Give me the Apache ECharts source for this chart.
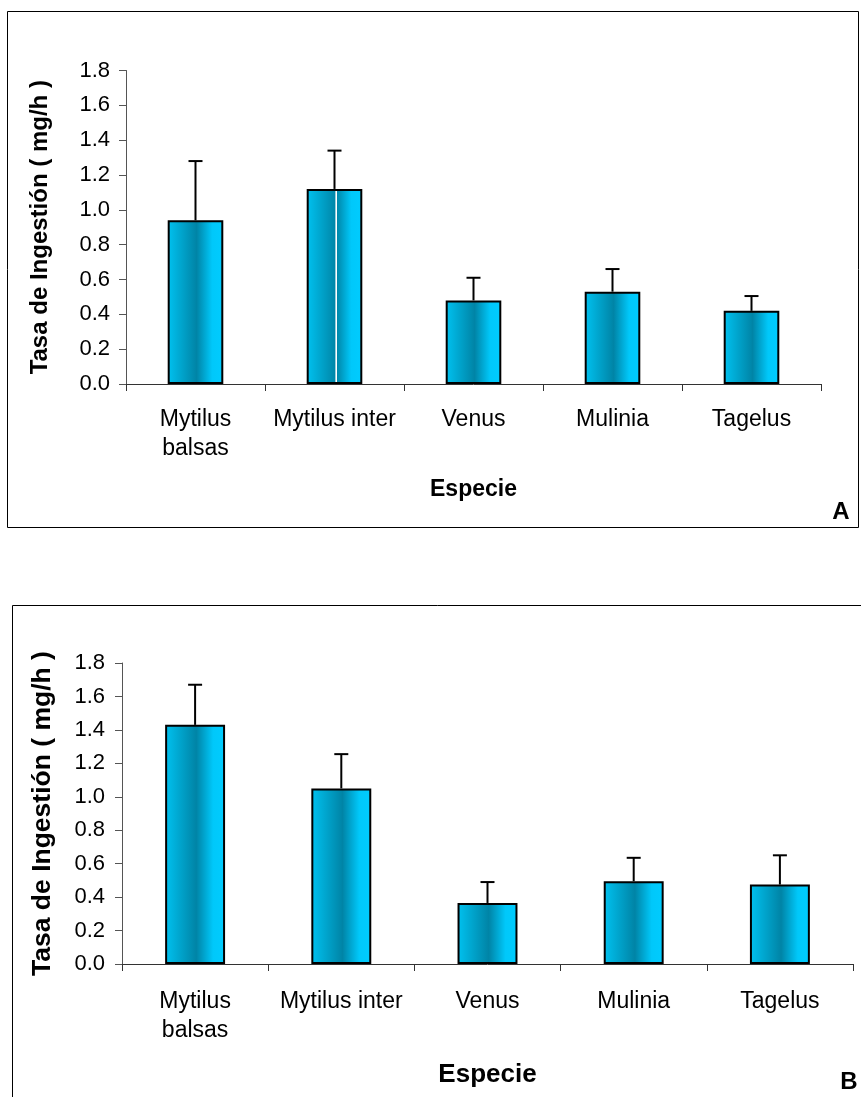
<!DOCTYPE html>
<html>
<head>
<meta charset="utf-8">
<script src="https://cdn.jsdelivr.net/npm/echarts@6/dist/echarts.min.js"></script>
<style>html,body{margin:0;padding:0;background:#fff;}#c{width:861px;height:1097px;}</style>
</head>
<body>
<div id="c"></div>
<script>
const categories = ['Mytilus\nbalsas', 'Mytilus inter', 'Venus', 'Mulinia', 'Tagelus'];
const valuesA = [0.94, 1.12, 0.48, 0.53, 0.42];
const errorsA = [0.34, 0.22, 0.13, 0.13, 0.085];
const valuesB = [1.43, 1.05, 0.365, 0.495, 0.475];
const errorsB = [0.24, 0.205, 0.125, 0.14, 0.175];
const yTicks = { min: 0, max: 1.8, interval: 0.2 };
const yTitle = 'Tasa de Ingestión ( mg/h )';
const xTitle = 'Especie';

const FONT = '"Liberation Sans", Arial, sans-serif';

function barGrad(withLine) {
  const stops = withLine ? [
    { offset: 0, color: '#00c2f0' },
    { offset: 0.515, color: '#0086a8' },
    { offset: 0.52, color: '#ffffff' },
    { offset: 0.545, color: '#ffffff' },
    { offset: 0.55, color: '#0088aa' },
    { offset: 0.8, color: '#00c8fa' },
    { offset: 1, color: '#00ccff' }
  ] : [
    { offset: 0, color: '#00c2f0' },
    { offset: 0.52, color: '#0084a6' },
    { offset: 0.8, color: '#00c8fa' },
    { offset: 1, color: '#00ccff' }
  ];
  return new echarts.graphic.LinearGradient(0, 0, 1, 0, stops);
}

function errRender(params, api) {
  const i = api.value(0), v = api.value(1), e = api.value(2);
  const p0 = api.coord([i, v]);
  const p1 = api.coord([i, v + e]);
  const hw = 7;
  return {
    type: 'group',
    children: [
      { type: 'line', shape: { x1: p0[0], y1: p0[1], x2: p1[0], y2: p1[1] }, style: { stroke: '#000', lineWidth: 2 } },
      { type: 'line', shape: { x1: p1[0] - hw, y1: p1[1], x2: p1[0] + hw, y2: p1[1] }, style: { stroke: '#000', lineWidth: 2 } }
    ]
  };
}

function xAxisCfg(gridIndex, nameSize, nameGap, labelMargin) {
  return {
    type: 'category', gridIndex: gridIndex, data: categories,
    name: xTitle, nameLocation: 'middle', nameGap: nameGap,
    nameTextStyle: { fontFamily: FONT, fontSize: nameSize, fontWeight: 'bold', color: '#000' },
    axisLine: { lineStyle: { color: '#333', width: 1 } },
    axisTick: { show: true, length: 7, lineStyle: { color: '#333' } },
    axisLabel: { fontFamily: FONT, fontSize: 23, color: '#000', lineHeight: 29, margin: labelMargin, interval: 0 },
    splitLine: { show: false }
  };
}

function yAxisCfg(gridIndex, nameSize, nameGap, labelMargin) {
  return {
    type: 'value', gridIndex: gridIndex,
    min: yTicks.min, max: yTicks.max, interval: yTicks.interval,
    name: yTitle, nameLocation: 'middle', nameGap: nameGap, nameRotate: 90,
    nameTextStyle: { fontFamily: FONT, fontSize: nameSize, fontWeight: 'bold', color: '#000' },
    axisLine: { show: true, lineStyle: { color: '#555', width: 1 } },
    axisTick: { show: true, length: 7, lineStyle: { color: '#555' } },
    axisLabel: { fontFamily: FONT, fontSize: 22, color: '#000', margin: labelMargin, formatter: v => v.toFixed(1) },
    splitLine: { show: false }
  };
}

const chart = echarts.init(document.getElementById('c'), null, { renderer: 'canvas' });
chart.setOption({
  backgroundColor: '#fff',
  animation: false,
  grid: [
    { left: 126, top: 70.5, width: 695, height: 313.5 },
    { left: 122, top: 663, width: 731, height: 301 }
  ],
  xAxis: [xAxisCfg(0, 23, 94, 21), xAxisCfg(1, 26, 98, 23)],
  yAxis: [yAxisCfg(0, 24, 74, 16), yAxisCfg(1, 26.5, 66, 17)],
  graphic: [
    { type: 'rect', shape: { x: 7.5, y: 11.5, width: 851, height: 516 }, style: { fill: 'none', stroke: '#000', lineWidth: 1 }, z: 10 },
    { type: 'rect', shape: { x: 12.5, y: 605.5, width: 870, height: 520 }, style: { fill: 'none', stroke: '#000', lineWidth: 1 }, z: 10 },
    { type: 'text', x: 841, y: 512, style: { text: 'A', fontFamily: FONT, fontSize: 24, fontWeight: 'bold', fill: '#000', textAlign: 'center', textVerticalAlign: 'middle' } },
    { type: 'text', x: 849, y: 1082, style: { text: 'B', fontFamily: FONT, fontSize: 24, fontWeight: 'bold', fill: '#000', textAlign: 'center', textVerticalAlign: 'middle' } }
  ],
  series: [
    {
      type: 'bar', xAxisIndex: 0, yAxisIndex: 0, barWidth: '40%',
      data: valuesA.map((v, i) => ({ value: v, itemStyle: { color: barGrad(i === 1) } })),
      itemStyle: { borderColor: '#000', borderWidth: 2 }
    },
    {
      type: 'custom', xAxisIndex: 0, yAxisIndex: 0, renderItem: errRender,
      encode: { x: 0, y: 1 },
      data: valuesA.map((v, i) => [i, v, errorsA[i]]), z: 5
    },
    {
      type: 'bar', xAxisIndex: 1, yAxisIndex: 1, barWidth: '41%',
      data: valuesB.map(v => ({ value: v, itemStyle: { color: barGrad(false) } })),
      itemStyle: { borderColor: '#000', borderWidth: 2 }
    },
    {
      type: 'custom', xAxisIndex: 1, yAxisIndex: 1, renderItem: errRender,
      encode: { x: 0, y: 1 },
      data: valuesB.map((v, i) => [i, v, errorsB[i]]), z: 5
    }
  ]
});
</script>
</body>
</html>
